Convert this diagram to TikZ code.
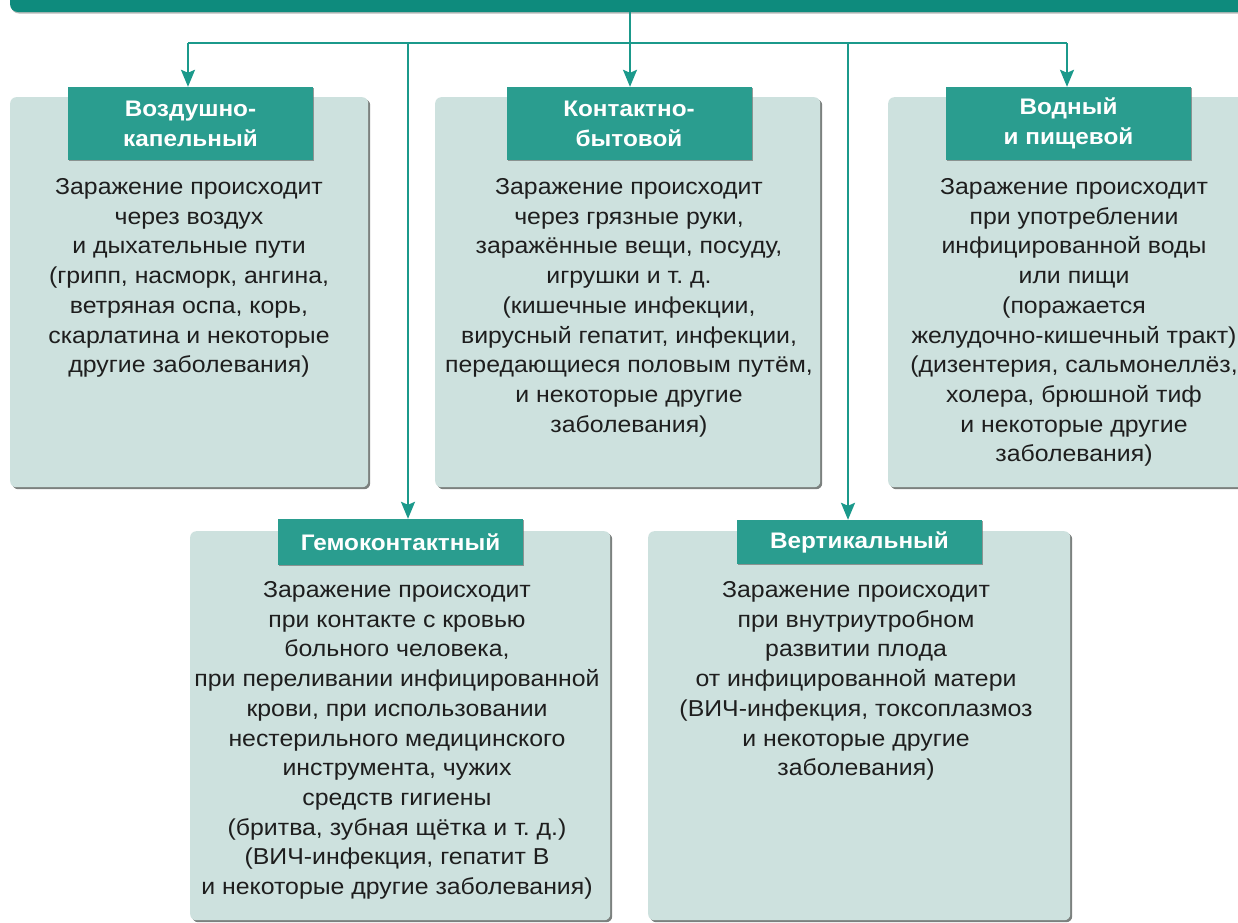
\documentclass[tikz,border=0pt]{standalone}
\usepackage{fontspec}
\setmainfont{Liberation Sans}[FakeStretch=1.08]
\usetikzlibrary{arrows.meta,shadows}
\definecolor{barc}{RGB}{14,139,125}
\definecolor{tabc}{RGB}{42,157,143}
\definecolor{boxc}{RGB}{205,225,222}
\definecolor{linec}{RGB}{27,153,139}
\definecolor{shad}{RGB}{110,115,113}
\definecolor{txt}{RGB}{30,30,30}
\begin{document}
\begin{tikzpicture}[x=1pt,y=-1pt,
  panel/.style={fill=boxc, rounded corners=6pt, inner sep=0pt, anchor=north west,
    drop shadow={shadow xshift=2pt, shadow yshift=-2pt, fill=shad, opacity=0.9}},
  tabbox/.style={fill=tabc, inner sep=0pt, minimum width=245pt, text=white, align=center,
    font=\bfseries\fontsize{22.5}{30}\selectfont,
    drop shadow={shadow xshift=1.2pt, shadow yshift=-1.2pt, fill=shad, opacity=0.7}},
  body/.style={anchor=base, align=center, inner sep=0pt, text=txt,
    font=\fontsize{23}{29.7}\selectfont},
  conn/.style={draw=linec, line width=2pt},
  arr/.style={conn, -{Stealth[length=17pt,width=14pt,inset=3pt]}}
]
\useasboundingbox (0,0) rectangle (1238,922);
\clip (0,0) rectangle (1238,922);

% top bar
\node[fill=barc, rounded corners=8pt, minimum width=1240pt, minimum height=32pt, inner sep=0pt,
  drop shadow={shadow xshift=1pt, shadow yshift=-1.5pt, fill=shad, opacity=0.5}] (bar) at (630,-4) {};

% panels
\node[panel, minimum width=358pt, minimum height=390pt] (b1) at (10,97) {};
\node[panel, minimum width=385pt, minimum height=390pt] (b2) at (435,97) {};
\node[panel, minimum width=414pt, minimum height=390pt] (b3) at (888,97) {};
\node[panel, minimum width=420pt, minimum height=389pt] (b4) at (190,531) {};
\node[panel, minimum width=422pt, minimum height=389pt] (b5) at (648,531) {};

% tabs
\node[tabbox, minimum height=73pt] (t1) at (190.5,123.5) {Воздушно-\\капельный};
\node[tabbox, minimum height=73pt] (t2) at (629,123.5) {Контактно-\\бытовой};
\node[tabbox, minimum height=73pt] (t3) at (1068.5,123.5) {Водный\\и пищевой};
\node[tabbox, minimum height=46pt] (t4) at (400.5,542) {Гемоконтактный};
\node[tabbox, minimum height=44pt] (t5) at (859.5,542) {Вертикальный};

% body texts (base anchor = baseline of last line)
\node[body] (d1) at (189,372.7) {Заражение происходит\\через воздух\\и дыхательные пути\\(грипп, насморк, ангина,\\ветряная оспа, корь,\\скарлатина и некоторые\\другие заболевания)};
\node[body] (d2) at (629,432.1) {Заражение происходит\\через грязные руки,\\заражённые вещи, посуду,\\игрушки и т.~д.\\(кишечные инфекции,\\вирусный гепатит, инфекции,\\передающиеся половым путём,\\и некоторые другие\\заболевания)};
\node[body] (d3) at (1074,461.8) {Заражение происходит\\при употреблении\\инфицированной воды\\или пищи\\(поражается\\желудочно-кишечный тракт)\\(дизентерия, сальмонеллёз,\\холера, брюшной тиф\\и некоторые другие\\заболевания)};
\node[body] (d4) at (397,894.5) {Заражение происходит\\при контакте с кровью\\больного человека,\\при переливании инфицированной\\крови, при использовании\\нестерильного медицинского\\инструмента, чужих\\средств гигиены\\(бритва, зубная щётка и т.~д.)\\(ВИЧ-инфекция, гепатит В\\и некоторые другие заболевания)};
\node[body] (d5) at (856,775.7) {Заражение происходит\\при внутриутробном\\развитии плода\\от инфицированной матери\\(ВИЧ-инфекция, токсоплазмоз\\и некоторые другие\\заболевания)};

% connectors
\coordinate (hL) at (188,43);
\coordinate (hC) at (630,43);
\coordinate (h4) at (408,43);
\coordinate (h5) at (848,43);
\coordinate (hR) at (1067,43);
\draw[conn] (hL) -- (hR);
\draw[arr] (bar.south -| hC) -- (hC |- t2.north);
\draw[arr] (hL) -- (hL |- t1.north);
\draw[arr] (hR) -- (hR |- t3.north);
\draw[arr] (h4) -- (h4 |- t4.north);
\draw[arr] (h5) -- (h5 |- t5.north);
\end{tikzpicture}
\end{document}
